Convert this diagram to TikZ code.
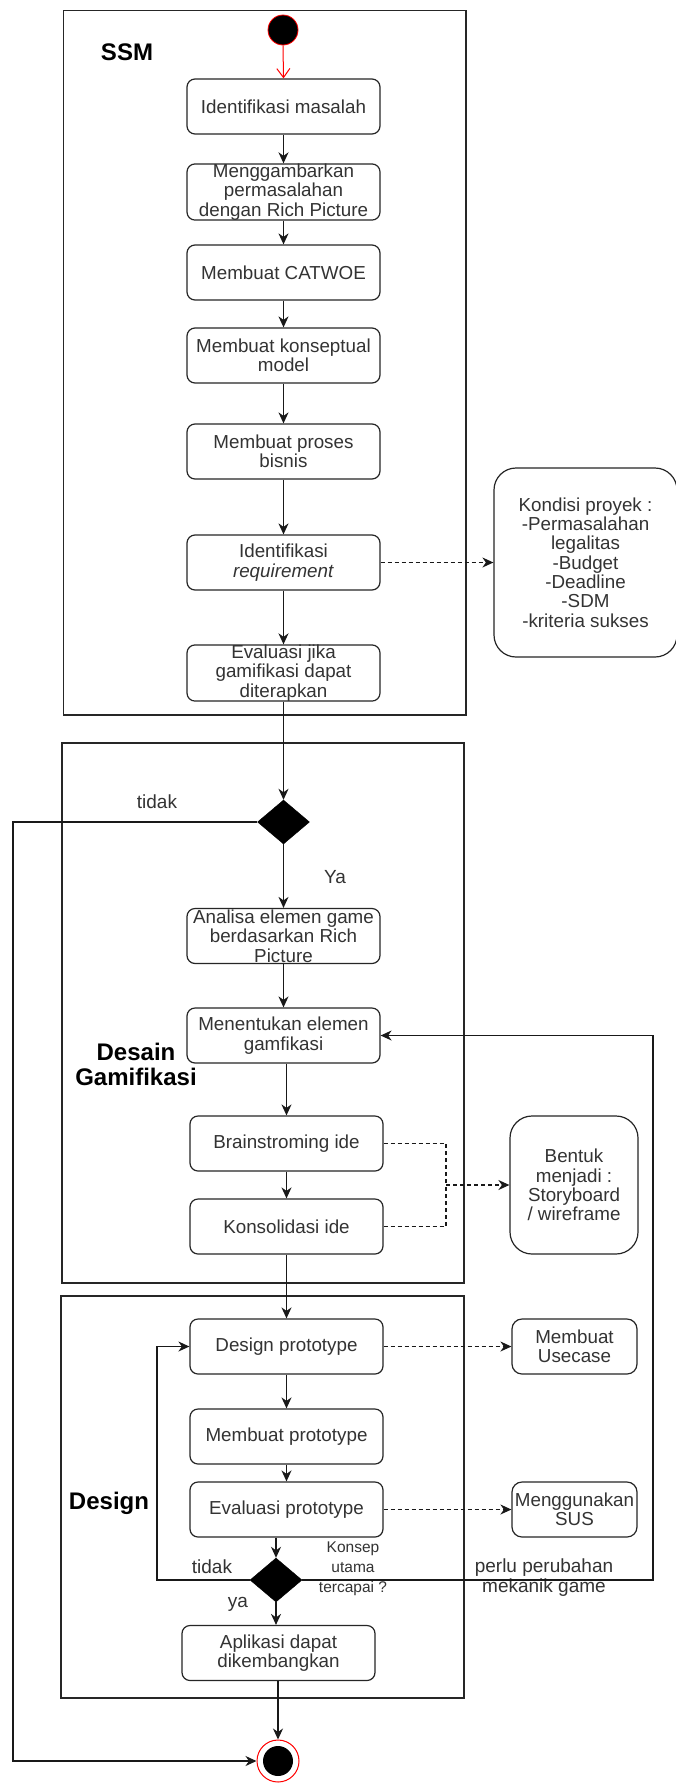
\documentclass[tikz,border=0pt]{standalone}
\usepackage{fontspec}
\setmainfont{Liberation Sans}
\usetikzlibrary{arrows.meta,shapes.geometric}
\begin{document}
\begin{tikzpicture}[x=1pt,y=-1pt,
  proc/.style={draw=black!85, line width=1.2pt, rounded corners=8pt, minimum width=193pt, minimum height=55pt, align=center, inner sep=0pt, text=black!80, font=\fontsize{18.8}{19.3}\selectfont},
  notebox/.style={proc, rounded corners=22pt},
  smallbox/.style={proc, rounded corners=10pt, minimum width=125pt},
  cont/.style={draw=black!85, line width=1.5pt, inner sep=0pt, anchor=north west},
  lbl/.style={font=\bfseries\fontsize{24}{25}\selectfont, text=black, align=center, inner sep=0pt},
  txt/.style={font=\fontsize{19}{20}\selectfont, text=black!80, align=center, inner sep=0pt},
  flow/.style={line width=1.4pt, draw=black!90, -{Stealth[length=11pt,width=10pt,inset=3.5pt]}},
  dflow/.style={flow, line width=1.2pt, dash pattern=on 4pt off 3pt},
  dline/.style={line width=1.2pt, draw=black!90, dash pattern=on 4pt off 3pt},
  dec/.style={diamond, fill=black, draw=black, minimum width=52pt, minimum height=44pt, inner sep=0pt},
]
\fill[white] (0,0) rectangle (675,1783);
\useasboundingbox (0,0) rectangle (675,1783);

% containers
\node[cont, minimum width=402.5pt, minimum height=704.5pt] (cssm) at (62.5,9.5) {};
\node[cont, minimum width=402pt, minimum height=540pt] (cdes) at (61,742) {};
\node[cont, minimum width=403pt, minimum height=402pt] (cdsg) at (60,1295) {};

% labels
\node[lbl] (lssm) at (127,52) {SSM};
\node[lbl] (ldesain) at (136,1064) {Desain\\Gamifikasi};
\node[lbl] (ldesign) at (109,1503) {Design};

% start / end
\node[circle, fill=black, draw=red, line width=0.8pt, minimum size=30pt, inner sep=0pt] (start) at (283,30) {};
\node[circle, draw=red, line width=1pt, fill=white, minimum size=42pt, inner sep=0pt] (endo) at (278,1761) {};
\node[circle, fill=black, minimum size=30pt, inner sep=0pt] (endi) at (278,1761) {};

% SSM boxes
\node[proc] (b1) at (283.5,106.5) {Identifikasi masalah};
\node[proc] (b2) at (283.5,192) {Menggambarkan\\permasalahan\\dengan Rich Picture};
\node[proc] (b3) at (283.5,272.5) {Membuat CATWOE};
\node[proc] (b4) at (283.5,355.5) {Membuat konseptual\\model};
\node[proc] (b5) at (283.5,451.5) {Membuat proses\\bisnis};
\node[proc] (b6) at (283.5,562.5) {Identifikasi\\\textit{requirement}};
\node[proc] (b7) at (283.5,673) {Evaluasi jika\\gamifikasi dapat\\diterapkan};
\node[notebox, minimum width=183pt, minimum height=189pt] (kond) at (585.5,562.5) {Kondisi proyek :\\-Permasalahan\\legalitas\\-Budget\\-Deadline\\-SDM\\-kriteria sukses};

% Desain gamifikasi
\node[dec] (d1) at (283.5,822) {};
\node[proc] (b8) at (283.5,936) {Analisa elemen game\\berdasarkan Rich\\Picture};
\node[proc] (b9) at (283.5,1035.5) {Menentukan elemen\\gamfikasi};
\node[proc] (b10) at (286.5,1143.5) {Brainstroming ide};
\node[proc] (b11) at (286.5,1226.5) {Konsolidasi ide};
\node[notebox, minimum width=128pt, minimum height=138pt] (bentuk) at (574,1185) {Bentuk\\menjadi :\\Storyboard\\/ wireframe};

% Design
\node[proc] (b12) at (286.5,1346.5) {Design prototype};
\node[proc] (b13) at (286.5,1436.5) {Membuat prototype};
\node[proc] (b14) at (286.5,1509.5) {Evaluasi prototype};
\node[smallbox] (usecase) at (574.5,1346.5) {Membuat\\Usecase};
\node[smallbox] (sus) at (574.5,1509.5) {Menggunakan\\SUS};
\node[dec] (d2) at (276,1580) {};
\node[proc] (b15) at (278.5,1653) {Aplikasi dapat\\dikembangkan};

% edge labels
\node[txt] (t1) at (157,802) {tidak};
\node[txt] (ya1) at (335,877) {Ya};
\node[txt] (t2) at (212,1567) {tidak};
\node[txt] (ya2) at (238,1604) {ya};
\node[txt, font=\fontsize{15.5}{20}\selectfont] (konsep) at (353,1569) {Konsep\\utama\\tercapai ?};
\node[txt] (perlu) at (544,1578) {perlu perubahan\\mekanik game};

% connectors
\draw[line width=1pt, draw=red, -{Straight Barb[length=9pt,width=13pt]}] (start.south) -- (b1.north);
\draw[flow] (b1) -- (b2);
\draw[flow] (b2) -- (b3);
\draw[flow] (b3) -- (b4);
\draw[flow] (b4) -- (b5);
\draw[flow] (b5) -- (b6);
\draw[flow] (b6) -- (b7);
\draw[dflow] (b6.east) -- (kond.west);
\draw[flow] (b7) -- (d1);
\draw[flow] (d1) -- (b8);
\draw[flow] (b8) -- (b9);
\draw[flow] (b9.south -| b10.north) -- (b10.north);
\draw[flow] (b10) -- (b11);
\draw[flow] (b11) -- (b12);
\draw[flow] (b12) -- (b13);
\draw[flow] (b13) -- (b14);
\draw[flow] (b14.south -| d2.north) -- (d2.north);
\draw[flow] (d2.south) -- (d2.south |- b15.north);
\draw[flow] (b15.south -| endo.north) -- (endo.north);

\coordinate (J) at (446,1185);
\draw[dline] (b10.east) -| (J);
\draw[dline] (b11.east) -| (J);
\draw[dflow] (J) -- (bentuk.west);
\draw[dflow] (b12.east) -- (usecase.west);
\draw[dflow] (b14.east) -- (sus.west);

\coordinate (L1) at (13,822);
\draw[flow] (d1.west) -- (L1) |- (endo.west);
\coordinate (R1) at (653,1580);
\draw[flow] (d2.east) -- (R1) |- (b9.east);
\coordinate (L2) at (157,1580);
\draw[flow] (d2.west) -- (L2) |- (b12.west);
\end{tikzpicture}
\end{document}
